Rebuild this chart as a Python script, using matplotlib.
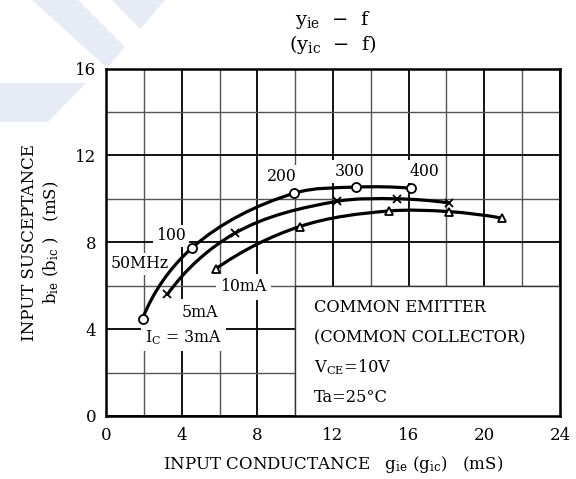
import matplotlib
matplotlib.use('Agg')
import matplotlib.pyplot as plt
from matplotlib.path import Path
from matplotlib.patches import PathPatch, Rectangle, Polygon
import numpy as np

plt.rcParams['font.family'] = ['DejaVu Serif']
plt.rcParams['mathtext.fontset'] = 'dejavuserif'

# ---- data ----
g_3mA = [1.93, 4.52, 9.96, 13.21, 16.11]
b_3mA = [4.48, 7.72, 10.26, 10.54, 10.49]
g_5mA = [3.25, 6.80, 12.19, 15.38, 18.13]
b_5mA = [5.60, 8.41, 9.88, 10.00, 9.81]
g_10mA = [5.83, 10.23, 14.97, 18.13, 20.94]
b_10mA = [6.79, 8.72, 9.44, 9.41, 9.11]
freq_labels = ['50MHz', '100', '200', '300', '400']
current_labels = [r'I$_\mathrm{C}$ = 3mA', '5mA', '10mA']
x_ticks = [0, 4, 8, 12, 16, 20, 24]
y_ticks = [0, 4, 8, 12, 16]
x_minor = [2, 6, 10, 14, 18, 22]
y_minor = [2, 6, 10, 14]

SX, SY = 18.97, 21.7  # approx. pixels per data unit, for even-looking curvature


def smooth_path(x, y):
    P = np.column_stack([np.asarray(x, float) * SX, np.asarray(y, float) * SY])
    n = len(P)
    U = [(P[i + 1] - P[i]) / np.linalg.norm(P[i + 1] - P[i]) for i in range(n - 1)]
    T = np.zeros_like(P)
    for i in range(1, n - 1):
        d = U[i - 1] + U[i]
        T[i] = d / np.linalg.norm(d)
    T[0] = 2 * np.dot(T[1], U[0]) * U[0] - T[1]
    T[-1] = 2 * np.dot(T[-2], U[-1]) * U[-1] - T[-2]
    verts = [P[0]]
    codes = [Path.MOVETO]
    for i in range(n - 1):
        L = np.linalg.norm(P[i + 1] - P[i])
        verts += [P[i] + T[i] * L / 3, P[i + 1] - T[i + 1] * L / 3, P[i + 1]]
        codes += [Path.CURVE4] * 3
    verts = np.array(verts) / np.array([SX, SY])
    return Path(verts, codes)


W, H = 576, 479
fig = plt.figure(figsize=(W / 100, H / 100), dpi=100)

# watermark shapes (decoration)
wm = '#E6EBF6'
for poly in [[(32, 0), (78, 0), (125, 47), (107, 68)],
             [(112, 0), (165, 0), (140, 29)],
             [(0, 83), (86, 83), (48, 122), (0, 122)]]:
    fig.patches.append(Polygon([(px / W, 1 - py / H) for px, py in poly],
                               closed=True, fc=wm, ec='none',
                               transform=fig.transFigure, zorder=0))

ax = fig.add_axes([106 / W, 1 - 416 / H, 454 / W, (416 - 68.5) / H])
ax.set_xlim(0, 24)
ax.set_ylim(0, 16)
ax.set_xticks(x_ticks)
ax.set_yticks(y_ticks)
ax.set_xticks(x_minor, minor=True)
ax.set_yticks(y_minor, minor=True)
ax.set_axisbelow(True)
ax.grid(which='major', color='black', lw=1.3)
ax.grid(which='minor', color='#555555', lw=1.0)
ax.tick_params(which='both', length=0)
ax.tick_params(axis='x', pad=8, labelsize=12)
ax.tick_params(axis='y', pad=7, labelsize=12)
ax.patch.set_alpha(0)
for s in ax.spines.values():
    s.set_linewidth(1.8)

# condition box
ax.add_patch(Rectangle((10, 0), 14, 6, fc='white', ec='#333333', lw=1.0, zorder=1))
box_lines = ['COMMON EMITTER', '(COMMON COLLECTOR)', r'V$_\mathrm{CE}$=10V', 'Ta=25°C']
for i, t in enumerate(box_lines):
    ax.text(11.0, 5.0 - 1.38 * i, t, fontsize=11.7, va='center', ha='left', zorder=2)

# curves
for gx, by, mk, ms in [(g_3mA, b_3mA, 'o', 6.5), (g_5mA, b_5mA, 'x', 5.5), (g_10mA, b_10mA, '^', 6)]:
    ax.add_patch(PathPatch(smooth_path(gx, by), fill=False, lw=2.3, ec='black',
                           capstyle='round', zorder=3))
    ax.plot(gx, by, ls='none', marker=mk, ms=ms, mfc='white', mec='black',
            mew=1.3, zorder=4)

bb = dict(fc='white', ec='none', pad=2)
freq_pos = [(0.25, 7.0, 'left'), (3.43, 8.29, 'center'), (9.28, 11.04, 'center'),
            (12.86, 11.27, 'center'), (16.82, 11.25, 'center')]
for lab, (px, py, ha) in zip(freq_labels, freq_pos):
    ax.text(px, py, lab, fontsize=11.3, ha=ha, va='center', bbox=bb, zorder=2.5)

cur_pos = [(2.05, 3.62, 'left'), (4.95, 4.78, 'center'), (7.27, 5.95, 'center')]
for lab, (px, py, ha) in zip(current_labels, cur_pos):
    ax.text(px, py, lab, fontsize=11.3, ha=ha, va='center',
            bbox=dict(fc='white', ec='none', pad=3), zorder=2.5)

ax.set_xlabel(r'INPUT CONDUCTANCE   $\mathrm{g_{ie}\ (g_{ic})}$   (mS)', fontsize=12, labelpad=7)
ax.set_ylabel('INPUT SUSCEPTANCE\n' + r'$\mathrm{b_{ie}\ (b_{ic}\ )}$   (mS)', fontsize=12,
              labelpad=10, linespacing=1.25)

fig.text(333 / W, 1 - 20 / H, r'$\mathrm{y_{ie}}$  −  f', fontsize=14, ha='center', va='center')
fig.text(333 / W, 1 - 45 / H, r'($\mathrm{y_{ic}}$  −  f)', fontsize=14, ha='center', va='center')

fig.savefig('out.png', dpi=100)
